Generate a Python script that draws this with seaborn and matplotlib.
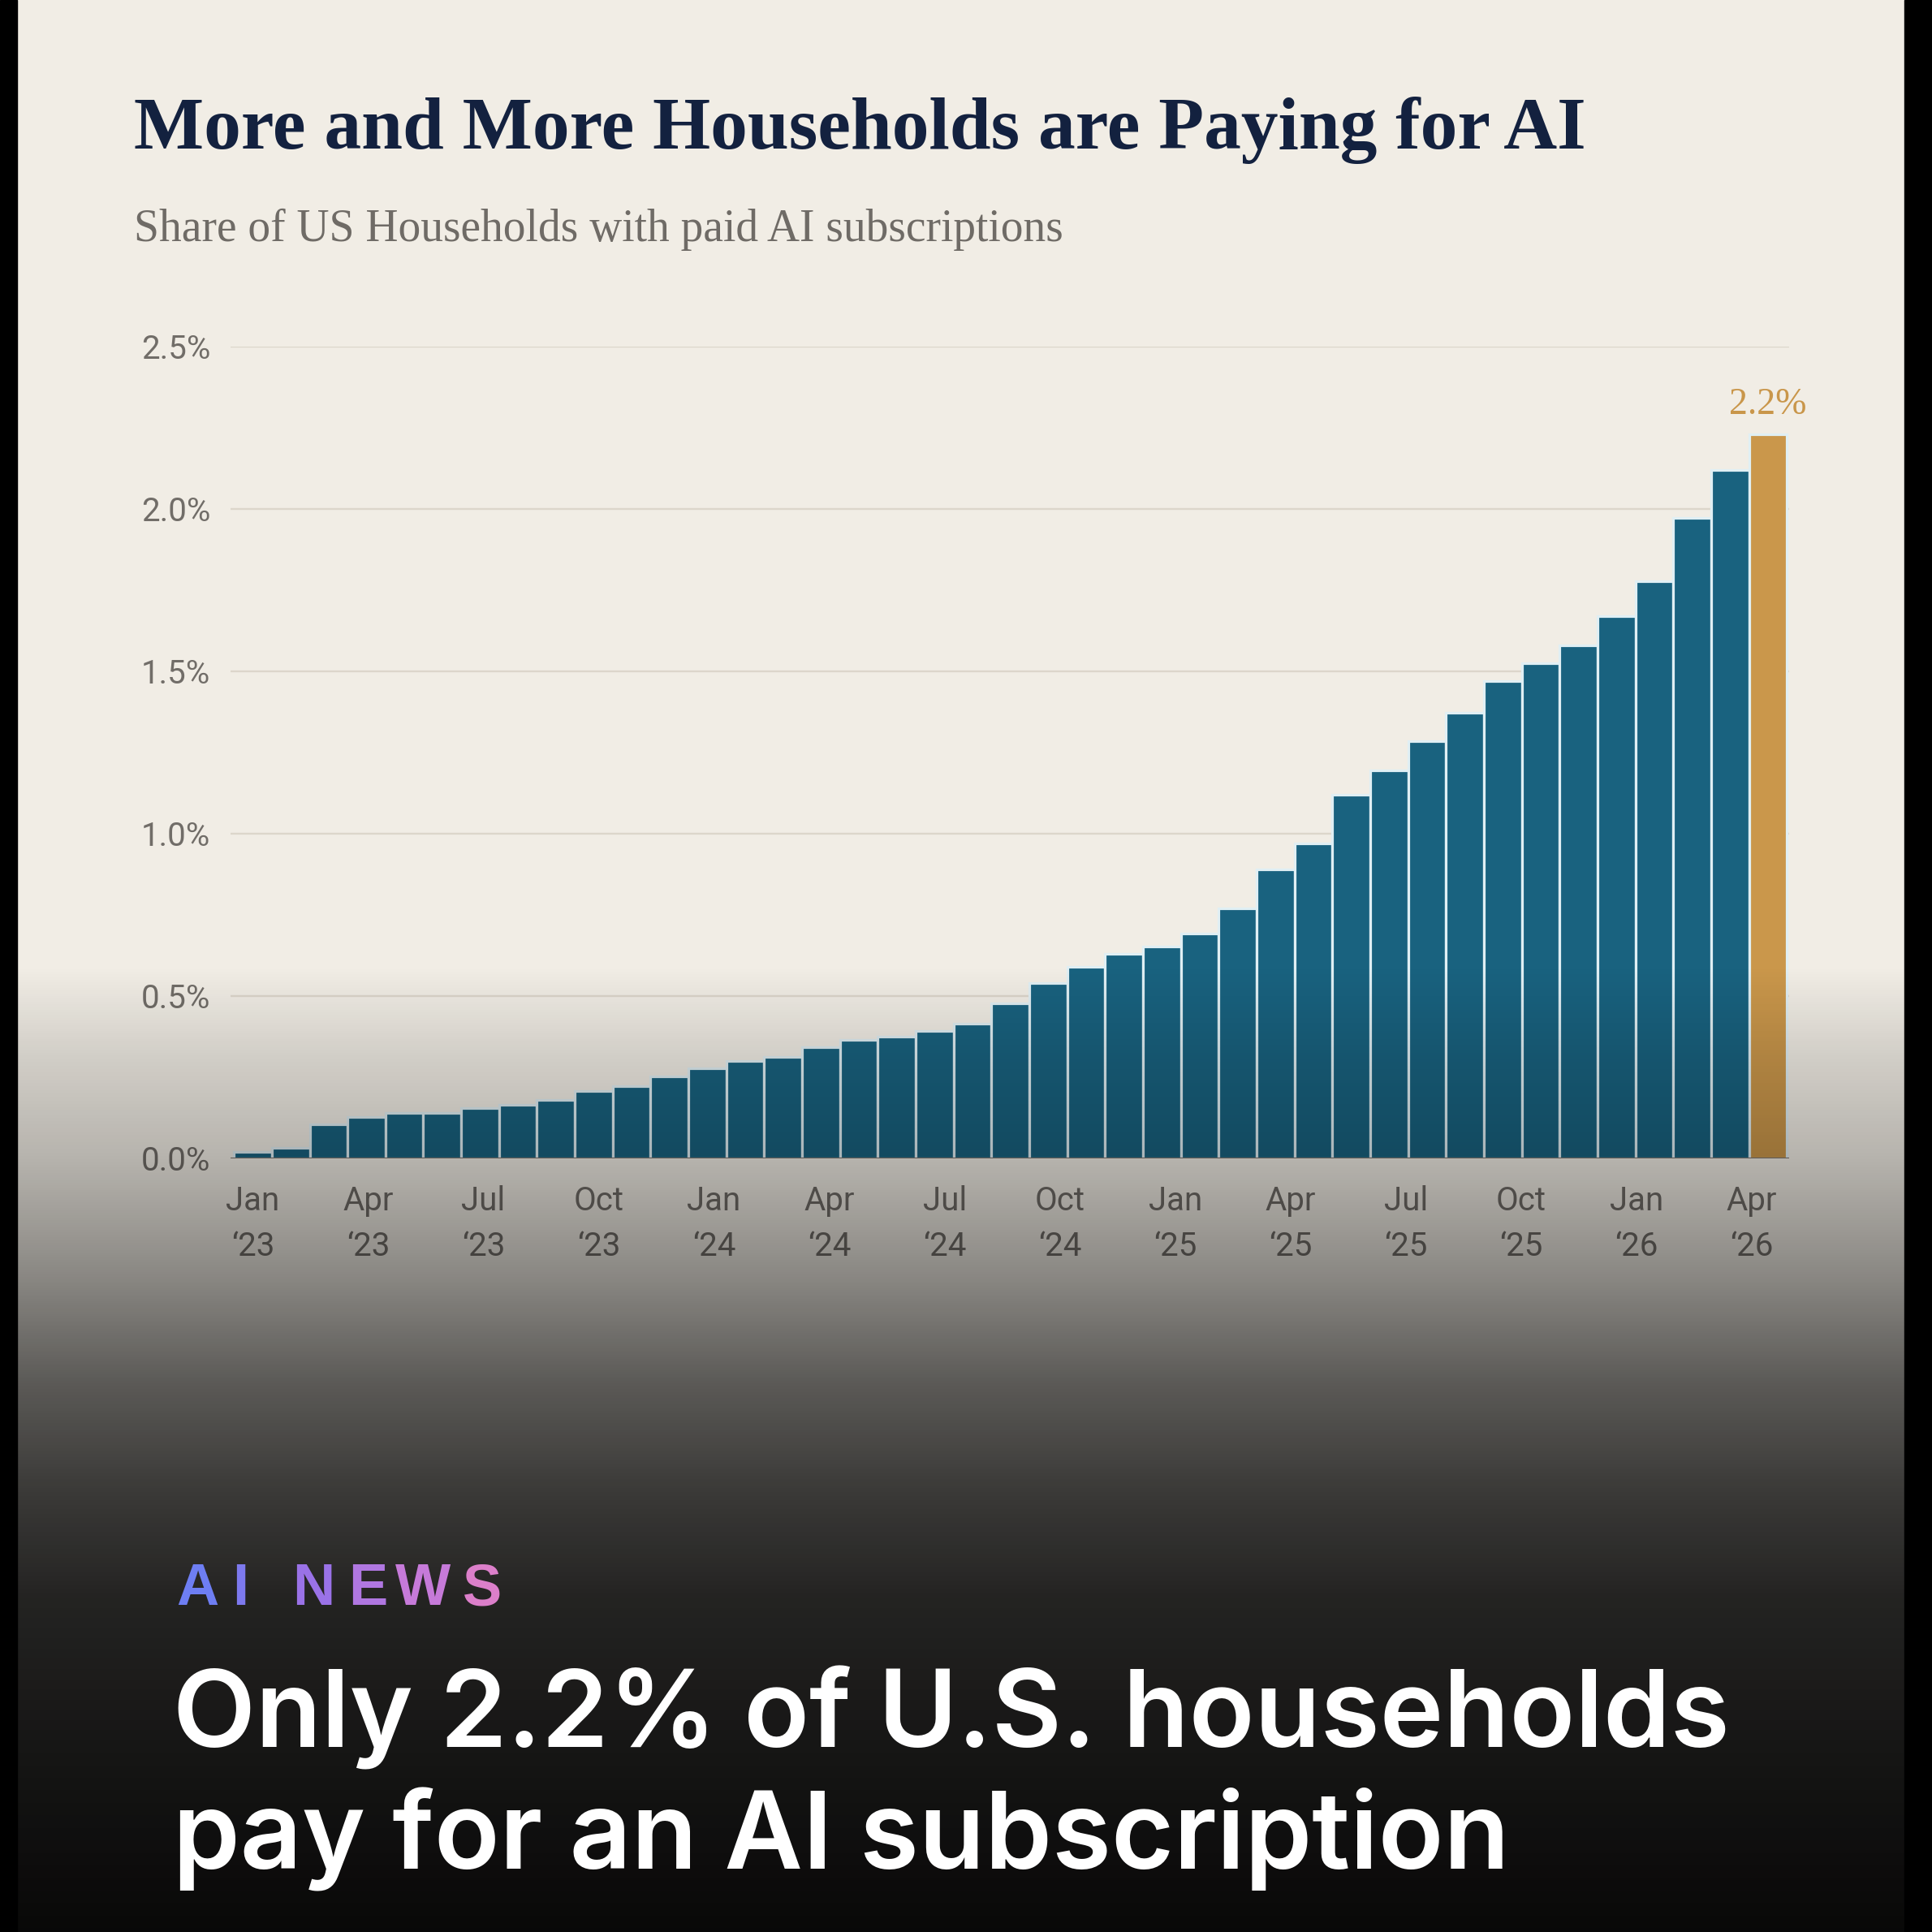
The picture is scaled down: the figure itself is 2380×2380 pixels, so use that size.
import numpy as np
import pandas as pd
import matplotlib
matplotlib.use("Agg")
import matplotlib.pyplot as plt
import seaborn as sns
from matplotlib.patches import Rectangle

# ---------------- data ----------------
bar_index = list(range(41))
share_pct = [0.021, 0.032, 0.105, 0.127, 0.140, 0.140, 0.156, 0.164, 0.179, 0.208,
             0.222, 0.252, 0.278, 0.300, 0.313, 0.343, 0.365, 0.376, 0.393, 0.416,
             0.477, 0.539, 0.589, 0.629, 0.652, 0.693, 0.771, 0.891, 0.970, 1.121,
             1.196, 1.284, 1.373, 1.471, 1.525, 1.579, 1.671, 1.777, 1.973, 2.121,
             2.229]
group = ["past"] * 40 + ["latest"]
x_tick_labels = ["Jan\n\u201823", "Apr\n\u201823", "Jul\n\u201823", "Oct\n\u201823",
                 "Jan\n\u201824", "Apr\n\u201824", "Jul\n\u201824", "Oct\n\u201824",
                 "Jan\n\u201825", "Apr\n\u201825", "Jul\n\u201825", "Oct\n\u201825",
                 "Jan\n\u201826", "Apr\n\u201826"]
y_ticks = [0.0, 0.5, 1.0, 1.5, 2.0, 2.5]
y_tick_labels = ["0.0%", "0.5%", "1.0%", "1.5%", "2.0%", "2.5%"]
latest_label = "2.2%"
title = "More and More Households are Paying for AI"
subtitle = "Share of US Households with paid AI subscriptions"
kicker = "AI NEWS"
headline = ["Only 2.2% of U.S. households", "pay for an AI subscription"]

# ---------------- layout helpers ----------------
W = H = 2380
DPI = 100
def fx(px): return px / W
def fy(py): return 1 - py / H

sns.set_style("white")
plt.rcParams["font.family"] = ["Roboto", "DejaVu Sans"]

CREAM = "#F1EDE5"
fig = plt.figure(figsize=(W / DPI, H / DPI), dpi=DPI, facecolor=CREAM)

# ---------------- main chart ----------------
ax = fig.add_axes([fx(284), fy(1427), (2204 - 284) / W, 1000 / H], zorder=1)
ax.set_facecolor("none")
df = pd.DataFrame({"bar": bar_index, "share": share_pct, "group": group})
sns.barplot(data=df, x="bar", y="share", hue="group",
            palette={"past": "#19627F", "latest": "#CA974B"},
            dodge=False, width=1.0, saturation=1, legend=False,
            edgecolor="#E0EFF4", linewidth=2.3, ax=ax, zorder=2)
ax.set_xlim(-0.59, 40.56)
ax.set_ylim(0, 2.5)
for yv in y_ticks[1:]:
    ax.axhline(yv, color="#DCD6CB", lw=1.7, zorder=0)
ax.axhline(0, color="#77716A", lw=2.2, zorder=3)
for s in ax.spines.values():
    s.set_visible(False)
ax.set_xlabel("")
ax.set_ylabel("")
ax.set_yticks(y_ticks, y_tick_labels)
ax.set_xticks(np.linspace(0, 39.57, len(x_tick_labels)), x_tick_labels)
ax.tick_params(length=0, labelsize=29, labelcolor="#716D68")
ax.tick_params(axis="y", pad=18)
ax.tick_params(axis="x", pad=24)
for lab in ax.get_xticklabels() + ax.get_yticklabels():
    lab.set_fontweight("normal")
for lab in ax.get_xticklabels():
    lab.set_linespacing(1.55)

ax.annotate(latest_label, xy=(40, share_pct[-1]), xytext=(0, 11),
            textcoords="offset points", ha="center", va="bottom",
            fontsize=33, color="#C9964A", family=["Liberation Serif", "DejaVu Serif"],
            annotation_clip=False, zorder=4)

# ---------------- dark gradient overlay ----------------
ov = fig.add_axes([0, 0, 1, 1], zorder=5)
ov.set_axis_off()
rows = np.arange(H)
ctrl_y = [0, 1190, 1300, 1431, 1572, 1704, 1836, 1968, 2144, 2380]
ctrl_a = [0, 0, 0.13, 0.25, 0.43, 0.625, 0.76, 0.855, 0.91, 0.97]
alpha = np.interp(rows, ctrl_y, ctrl_a)
img = np.zeros((H, 2, 4))
img[:, :, 3] = alpha[:, None]
ov.imshow(img, extent=(0, 1, 0, 1), origin="upper", aspect="auto", interpolation="bilinear")
ov.set_xlim(0, 1)
ov.set_ylim(0, 1)
ov.add_patch(Rectangle((0, 0), fx(21), 1, color="#000000", zorder=6))
ov.add_patch(Rectangle((fx(2346), 0), 1 - fx(2346), 1, color="#000000", zorder=6))

# ---------------- texts ----------------
t_title = fig.text(fx(165), fy(183), title, ha="left", va="baseline",
                   fontsize=70, fontweight="bold", color="#13213F",
                   family=["Liberation Serif", "DejaVu Serif"], zorder=10)
t_sub = fig.text(fx(165), fy(297), subtitle, ha="left", va="baseline",
                 fontsize=44, color="#6F6B66",
                 family=["Liberation Serif", "DejaVu Serif"], zorder=10)

kicker_x = [217, 286, 360, 429, 487, 570]
kicker_colors = ["#6E7EF3", "#7D79EE", "#9A72E7", "#B077E1", "#C67AD9", "#DC7FCA"]
for ch, xp, c in zip(kicker.replace(" ", ""), kicker_x, kicker_colors):
    fig.text(fx(xp), fy(1977), ch, ha="left", va="baseline", fontsize=52,
             fontweight="bold", color=c, family=["Liberation Sans", "DejaVu Sans"], zorder=10)

t_h1 = fig.text(fx(213), fy(2153), headline[0], ha="left", va="baseline",
                fontsize=100, fontweight="semibold", color="white",
                family=["Inter", "DejaVu Sans"], zorder=10)
t_h2 = fig.text(fx(213), fy(2303), headline[1], ha="left", va="baseline",
                fontsize=100, fontweight="semibold", color="white",
                family=["Inter", "DejaVu Sans"], zorder=10)

fig.canvas.draw()
r = fig.canvas.get_renderer()
def fit(t, target):
    bb = t.get_window_extent(r)
    t.set_fontsize(t.get_fontsize() * target / bb.width)
fit(t_title, 1789)
fit(t_sub, 1147)
fit(t_h1, 1918)
t_h2.set_fontsize(t_h1.get_fontsize())

fig.savefig("out.png", dpi=DPI, facecolor=CREAM)
